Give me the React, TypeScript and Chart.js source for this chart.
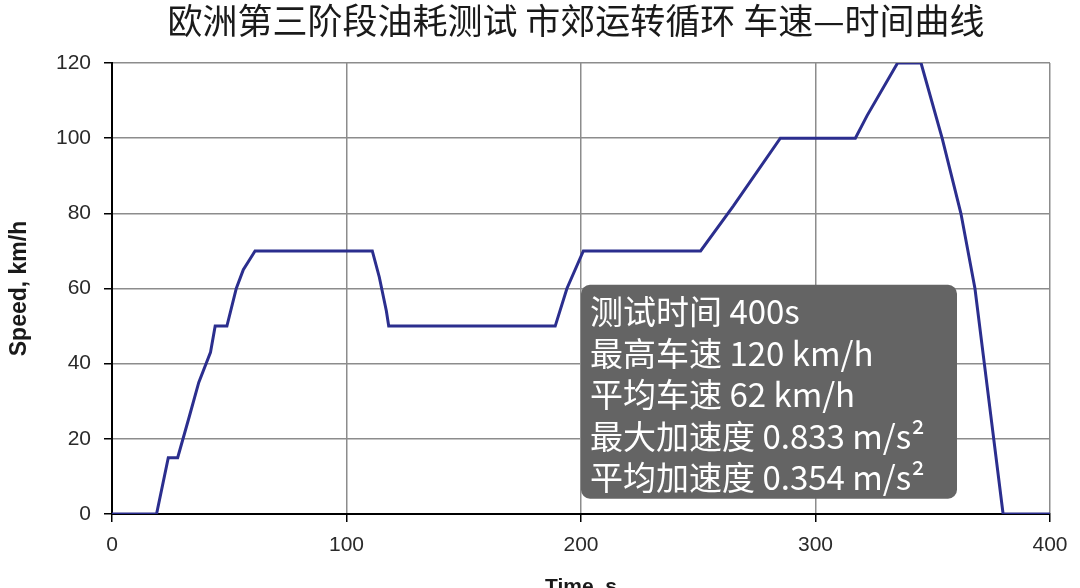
import React, { useEffect, useRef } from "react";
import { Chart, registerables } from "chart.js";

Chart.register(...registerables);

const titleText = "欧洲第三阶段油耗测试 市郊运转循环 车速—时间曲线";
const xAxisTitle = "Time, s";
const yAxisTitle = "Speed, km/h";

const timeS = [0, 19, 24, 28, 33, 37, 42, 44, 49, 53, 56, 59, 61, 111, 114, 117, 118, 189, 194, 201, 251, 265, 285, 317, 322, 335, 345, 354, 362, 368, 372, 376, 380, 400];
const speedKmh = [0, 0, 15, 15, 26, 35, 43, 50, 50, 60, 65, 68, 70, 70, 63, 54, 50, 50, 60, 70, 70, 82, 100, 100, 106, 120, 120, 100, 80, 60, 40, 20, 0, 0];

const infoLines = [
  "测试时间 400s",
  "最高车速 120 km/h",
  "平均车速 62 km/h",
  "最大加速度 0.833 m/s²",
  "平均加速度 0.354 m/s²",
];

const xTicks = [0, 100, 200, 300, 400];
const yTicks = [0, 20, 40, 60, 80, 100, 120];

const overlayPlugin = {
  id: "overlay",
  afterDraw(chart: any) {
    const ctx = chart.ctx as CanvasRenderingContext2D;
    ctx.save();
    // title
    ctx.fillStyle = "#1a1a1a";
    ctx.font = '35px "Noto Sans CJK SC"';
    ctx.textAlign = "center";
    ctx.textBaseline = "middle";
    ctx.fillText(titleText, 576, 21);
    // info box anchored in data space
    const xs = chart.scales.x;
    const ys = chart.scales.y;
    const bx = xs.getPixelForValue(200);
    const by = ys.getPixelForValue(61);
    const bw = 376;
    const bh = 214;
    const r = 9;
    ctx.fillStyle = "#646464";
    ctx.beginPath();
    ctx.moveTo(bx + r, by);
    ctx.arcTo(bx + bw, by, bx + bw, by + bh, r);
    ctx.arcTo(bx + bw, by + bh, bx, by + bh, r);
    ctx.arcTo(bx, by + bh, bx, by, r);
    ctx.arcTo(bx, by, bx + bw, by, r);
    ctx.closePath();
    ctx.fill();
    ctx.fillStyle = "#ffffff";
    ctx.font = '33px "Noto Sans CJK SC"';
    ctx.textAlign = "left";
    ctx.textBaseline = "middle";
    infoLines.forEach((t, i) => {
      ctx.fillText(t, bx + 9, by + 27 + i * 41.5);
    });
    ctx.restore();
  },
};

export default function App() {
  const ref = useRef<HTMLCanvasElement | null>(null);
  useEffect(() => {
    if (!ref.current) return;
    const points = timeS.map((t, i) => ({ x: t, y: speedKmh[i] }));
    const chart = new Chart(ref.current, {
      type: "line",
      data: {
        datasets: [
          {
            data: points,
            borderColor: "#2b2e8e",
            borderWidth: 3,
            pointRadius: 0,
            tension: 0,
            fill: false,
          },
        ],
      },
      options: {
        responsive: false,
        animation: false,
        layout: { padding: { top: 63, right: 30, left: 0, bottom: 0 } },
        plugins: {
          legend: { display: false },
          tooltip: { enabled: false },
          title: { display: false },
        },
        scales: {
          x: {
            type: "linear",
            min: 0,
            max: 400,
            afterBuildTicks: (s: any) => {
              s.ticks = xTicks.map((v) => ({ value: v }));
            },
            afterFit: (s: any) => {
              s.height = 620 - 514;
            },
            grid: { color: "#8c8c8c", lineWidth: 1.5, tickColor: "#000", tickLength: 8 },
            border: { color: "#000", width: 2 },
            ticks: { color: "#2a2a2a", font: { family: "Liberation Sans", size: 21 }, padding: 11, maxRotation: 0 },
            title: {
              display: true,
              text: xAxisTitle,
              color: "#1a1a1a",
              font: { family: "Liberation Sans", size: 21, weight: "bold" },
              padding: { top: 0, bottom: 20 },
            },
          },
          y: {
            type: "linear",
            min: 0,
            max: 120,
            afterBuildTicks: (s: any) => {
              s.ticks = yTicks.map((v) => ({ value: v }));
            },
            afterFit: (s: any) => {
              s.width = 112;
            },
            grid: { color: "#8c8c8c", lineWidth: 1.5, tickColor: "#000", tickLength: 8 },
            border: { color: "#000", width: 2 },
            ticks: { color: "#2a2a2a", font: { family: "Liberation Sans", size: 21 }, padding: 13 },
            title: {
              display: true,
              text: yAxisTitle,
              color: "#1a1a1a",
              font: { family: "Liberation Sans", size: 23, weight: "bold" },
              padding: { top: 6, bottom: 0 },
            },
          },
        },
      },
      plugins: [overlayPlugin],
    });
    return () => chart.destroy();
  }, []);
  return (
    <div style={{ position: "fixed", left: 0, top: 0, width: 1080, height: 620, background: "#fff" }}>
      <canvas ref={ref} width={1080} height={620} />
    </div>
  );
}
